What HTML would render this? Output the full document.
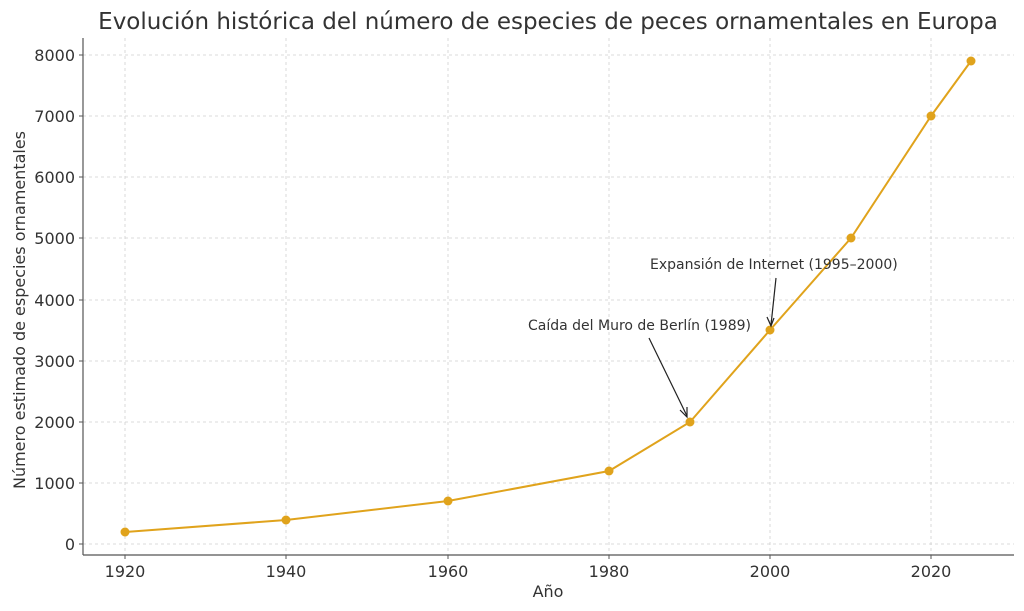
<!DOCTYPE html>
<html><head><meta charset="utf-8"><style>body{margin:0;background:#fff}svg{display:block;font-family:"DejaVu Sans","Liberation Sans",sans-serif}</style></head><body>
<svg width="1024" height="611" viewBox="0 0 1024 611" xmlns="http://www.w3.org/2000/svg">
<rect width="1024" height="611" fill="#fff"/>
<text x="548" y="29" font-size="23" fill="#333" text-anchor="middle">Evolución histórica del número de especies de peces ornamentales en Europa</text>
<g stroke="#d0d0d0" stroke-dasharray="3,3" stroke-width="0.8">
<line x1="125" y1="38" x2="125" y2="555"/><line x1="286" y1="38" x2="286" y2="555"/><line x1="448" y1="38" x2="448" y2="555"/><line x1="609" y1="38" x2="609" y2="555"/><line x1="770" y1="38" x2="770" y2="555"/><line x1="931" y1="38" x2="931" y2="555"/>
<line x1="83" y1="544" x2="1014" y2="544"/><line x1="83" y1="483" x2="1014" y2="483"/><line x1="83" y1="422" x2="1014" y2="422"/><line x1="83" y1="361" x2="1014" y2="361"/><line x1="83" y1="300" x2="1014" y2="300"/><line x1="83" y1="238" x2="1014" y2="238"/><line x1="83" y1="177" x2="1014" y2="177"/><line x1="83" y1="116" x2="1014" y2="116"/><line x1="83" y1="55" x2="1014" y2="55"/>
</g>
<g stroke="#555" stroke-width="1.2"><line x1="83" y1="38" x2="83" y2="555"/><line x1="83" y1="555" x2="1014" y2="555"/>
<g stroke-width="1"><line x1="79" y1="544" x2="83" y2="544"/><line x1="79" y1="483" x2="83" y2="483"/><line x1="79" y1="422" x2="83" y2="422"/><line x1="79" y1="361" x2="83" y2="361"/><line x1="79" y1="300" x2="83" y2="300"/><line x1="79" y1="238" x2="83" y2="238"/><line x1="79" y1="177" x2="83" y2="177"/><line x1="79" y1="116" x2="83" y2="116"/><line x1="79" y1="55" x2="83" y2="55"/>
<line x1="125" y1="555" x2="125" y2="559"/><line x1="286" y1="555" x2="286" y2="559"/><line x1="448" y1="555" x2="448" y2="559"/><line x1="609" y1="555" x2="609" y2="559"/><line x1="770" y1="555" x2="770" y2="559"/><line x1="931" y1="555" x2="931" y2="559"/></g></g>
<g font-size="16" fill="#333" text-anchor="end"><text x="75" y="550">0</text><text x="75" y="489">1000</text><text x="75" y="428">2000</text><text x="75" y="367">3000</text><text x="75" y="306">4000</text><text x="75" y="244">5000</text><text x="75" y="183">6000</text><text x="75" y="122">7000</text><text x="75" y="61">8000</text></g>
<g font-size="16" fill="#333" text-anchor="middle"><text x="125" y="577">1920</text><text x="286" y="577">1940</text><text x="448" y="577">1960</text><text x="609" y="577">1980</text><text x="770" y="577">2000</text><text x="931" y="577">2020</text>
<text x="548" y="597">Año</text>
<text transform="translate(25,310) rotate(-90)">Número estimado de especies ornamentales</text></g>
<polyline fill="none" stroke="#e0a31c" stroke-width="2" points="125,532 286,520 448,501 609,471 690,422 770,330 851,238 931,116 971,61"/>
<g fill="#e0a31c"><circle cx="125" cy="532" r="4.5"/><circle cx="286" cy="520" r="4.5"/><circle cx="448" cy="501" r="4.5"/><circle cx="609" cy="471" r="4.5"/><circle cx="690" cy="422" r="4.5"/><circle cx="770" cy="330" r="4.5"/><circle cx="851" cy="238" r="4.5"/><circle cx="931" cy="116" r="4.5"/><circle cx="971" cy="61" r="4.5"/></g>
<g font-size="14" fill="#333"><text x="528" y="330">Caída del Muro de Berlín (1989)</text><text x="650" y="269">Expansión de Internet (1995–2000)</text></g>
<g stroke="#222" stroke-width="1.2" fill="none"><line x1="649" y1="338" x2="687" y2="416"/><polyline points="680,410 687,417 687,407"/><line x1="776" y1="278" x2="771" y2="325"/><polyline points="767,317 771,326 774,318"/></g>
</svg></body></html>
